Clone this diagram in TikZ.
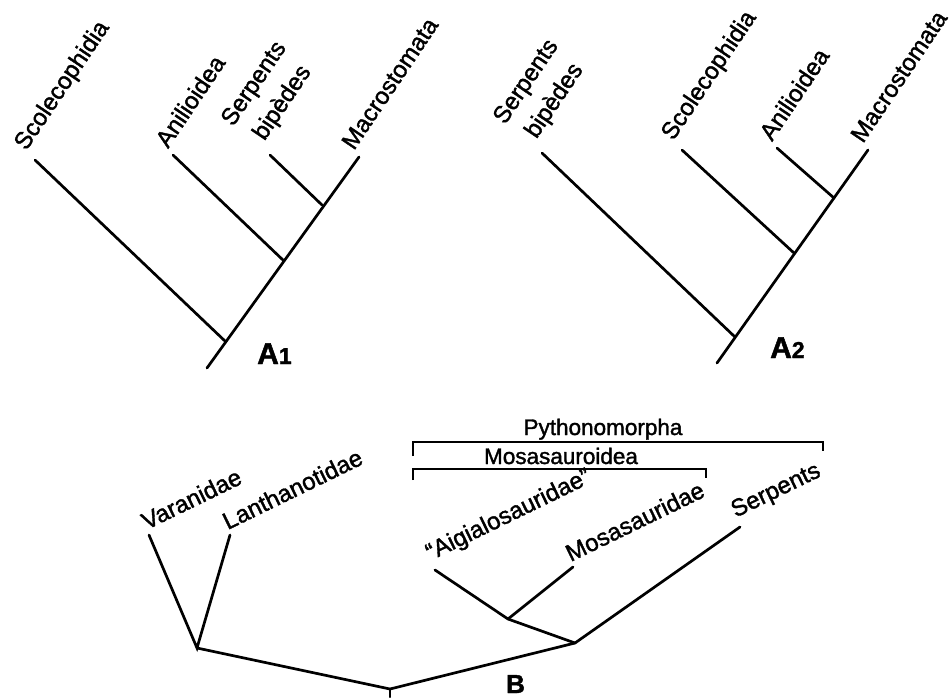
\documentclass[tikz,border=0pt]{standalone}
\usepackage{fontspec}
\setmainfont{Liberation Sans}[FakeBold=1.5]
\usetikzlibrary{positioning}

\begin{document}
\begin{tikzpicture}[
    x=1pt, y=-1pt,
    branch/.style={line width=2.7pt, line cap=round},
    bracket/.style={line width=2.7pt},
    taxon/.style={anchor=south west, rotate=56, inner xsep=2pt, inner ysep=7pt, align=center, font=\fontsize{24}{28}\selectfont},
    taxonb/.style={anchor=south west, rotate=26, inner xsep=0pt, inner ysep=5pt, font=\fontsize{24}{28}\selectfont},
    group/.style={anchor=base, inner sep=0pt, font=\fontsize{22.5}{26}\selectfont},
    panel/.style={anchor=base west, inner sep=0pt, font=\fontsize{30}{32}\bfseries\selectfont}
]
\useasboundingbox (0,0) rectangle (951,697);

% Tree A1
\coordinate (a1root) at (207,368);
\coordinate (a1j1) at (226,342);
\coordinate (a1j2) at (284,261);
\coordinate (a1j3) at (322,205);
\coordinate (a1scol) at (35,160);
\coordinate (a1anil) at (173,155);
\coordinate (a1bip) at (270,155);
\coordinate (a1macro) at (359,157);

\node[taxon] (a1scoltxt) at (a1scol) {Scolecophidia};
\node[taxon] (a1aniltxt) at (a1anil) {Anilioidea};
\node[taxon] (a1biptxt) at (a1bip) {Serpents\\[6pt]bipèdes};
\node[taxon] (a1macrotxt) at (a1macro) {Macrostomata};
\node[panel] (a1label) at (257,364) {A{\fontsize{23}{23}\selectfont 1}};

\draw[branch] (a1root) -- (a1macro);
\draw[branch] (a1scol) -- (a1j1);
\draw[branch] (a1anil) -- (a1j2);
\draw[branch] (a1bip) -- (a1j3);

% Tree A2
\coordinate (a2root) at (717,363);
\coordinate (a2j1) at (735,337);
\coordinate (a2j2) at (794,253);
\coordinate (a2j3) at (834,198);
\coordinate (a2bip) at (542,153);
\coordinate (a2scol) at (682,150);
\coordinate (a2anil) at (777,148);
\coordinate (a2macro) at (868,150);

\node[taxon] (a2biptxt) at (a2bip) {Serpents\\[6pt]bipèdes};
\node[taxon] (a2scoltxt) at (a2scol) {Scolecophidia};
\node[taxon] (a2aniltxt) at (a2anil) {Anilioidea};
\node[taxon] (a2macrotxt) at (a2macro) {Macrostomata};
\node[panel] (a2label) at (770,358) {A{\fontsize{23}{23}\selectfont 2}};

\draw[branch] (a2root) -- (a2macro);
\draw[branch] (a2bip) -- (a2j1);
\draw[branch] (a2scol) -- (a2j2);
\draw[branch] (a2anil) -- (a2j3);

% Tree B
\coordinate (broot) at (390,689);
\coordinate (bstub) at (390,697);
\coordinate (bvl) at (197,648);
\coordinate (bvar) at (149,535);
\coordinate (blan) at (230,535);
\coordinate (bpy) at (575,643);
\coordinate (bmo) at (508,619);
\coordinate (baig) at (435,570);
\coordinate (bmos) at (573,567);
\coordinate (bserp) at (740,527);

\node[taxonb] (bvartxt) at (bvar) {Varanidae};
\node[taxonb] (blantxt) at (blan) {Lanthanotidae};
\node[taxonb] (baigtxt) at (baig) {“Aigialosauridae”};
\node[taxonb] (bmostxt) at (bmos) {Mosasauridae};
\node[taxonb] (bserptxt) at (bserp) {Serpents};
\node[panel, font=\fontsize{26}{28}\bfseries\selectfont] (blabel) at (506,693) {B};

\draw[branch] (bvar) -- (bvl) -- (blan);
\draw[branch] (bvl) -- (broot) -- (bpy) -- (bserp);
\draw[branch] (broot) -- (bstub);
\draw[branch] (bpy) -- (bmo) -- (baig);
\draw[branch] (bmo) -- (bmos);

% Brackets
\coordinate (pyleft) at (413,456);
\coordinate (pyright) at (823,451);
\coordinate (moleft) at (413,480);
\coordinate (moright) at (706,478);

\draw[bracket] (pyleft) -- ++(0,-14) -| (pyright);
\draw[bracket] (moleft) -- ++(0,-11) -| (moright);
\node[group] (pytho) at (603,435) {Pythonomorpha};
\node[group] (mosa) at (561,464) {Mosasauroidea};

\end{tikzpicture}
\end{document}
